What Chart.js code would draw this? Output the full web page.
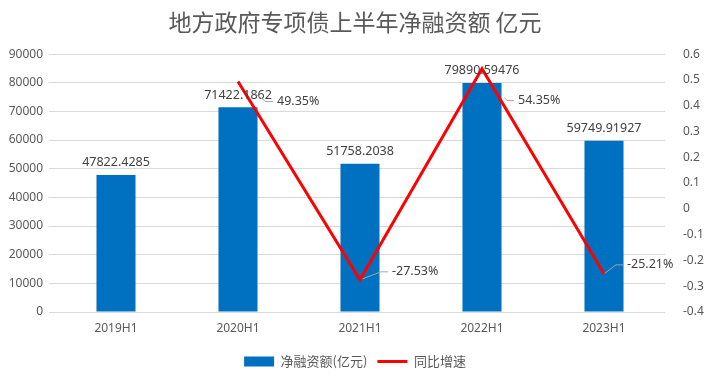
<!DOCTYPE html>
<html>
<head>
<meta charset="utf-8">
<script src="https://cdn.jsdelivr.net/npm/chart.js@4/dist/chart.umd.min.js"></script>
<style>
html,body{margin:0;padding:0;background:#fff;}
#wrap{width:710px;height:379px;position:relative;}
</style>
</head>
<body>
<div id="wrap"><canvas id="c" width="710" height="379"></canvas></div>
<script>
const categories = ['2019H1', '2020H1', '2021H1', '2022H1', '2023H1'];
const netFinancing = [47822.4285, 71422.1862, 51758.2038, 79890.59476, 59749.91927];
const netFinancingLabels = ['47822.4285', '71422.1862', '51758.2038', '79890.59476', '59749.91927'];
const yoyGrowth = [null, 0.4935, -0.2753, 0.5435, -0.2521];
const yoyLabels = ['', '49.35%', '-27.53%', '54.35%', '-25.21%'];

// label placement (style only): offset of label left-middle from point, leader start fraction
const yoyLabelPos = [null, {dx: 39, dy: 20, t: 0.62}, {dx: 32, dy: -8, t: 0.12}, {dx: 36, dy: 32, t: 0.9}, {dx: 23, dy: -9, t: 0.05}];

const FONT = '"Noto Sans", "Noto Sans CJK SC", sans-serif';

const labelPlugin = {
  id: 'labels',
  afterDatasetsDraw(chart) {
    const ctx = chart.ctx;
    ctx.save();
    ctx.font = '12.5px ' + FONT;
    ctx.fillStyle = '#404040';
    const barMeta = chart.getDatasetMeta(0);
    barMeta.data.forEach((el, i) => {
      ctx.textAlign = 'center';
      ctx.textBaseline = 'bottom';
      ctx.fillText(netFinancingLabels[i], el.x, el.y - 6);
    });
    const lineMeta = chart.getDatasetMeta(1);
    lineMeta.data.forEach((el, i) => {
      const p = yoyLabelPos[i];
      if (!p || yoyGrowth[i] === null) return;
      const lx = el.x + p.dx, ly = el.y + p.dy;
      const ex = lx - 4, ey = ly;
      const bx = lx - 11, by = ly;
      const sx = el.x + (bx - el.x) * p.t, sy = el.y + (by - el.y) * p.t;
      ctx.strokeStyle = '#A6A6A6';
      ctx.lineWidth = 1;
      ctx.beginPath();
      ctx.moveTo(sx, sy);
      ctx.lineTo(bx, by);
      ctx.lineTo(ex, ey);
      ctx.stroke();
      ctx.textAlign = 'left';
      ctx.textBaseline = 'middle';
      ctx.fillText(yoyLabels[i], lx, ly);
    });
    ctx.restore();
  }
};

new Chart(document.getElementById('c'), {
  data: {
    labels: categories,
    datasets: [
      {
        type: 'bar',
        label: '净融资额(亿元)',
        data: netFinancing,
        backgroundColor: '#0070C0',
        borderWidth: 0,
        yAxisID: 'y',
        categoryPercentage: 1,
        barPercentage: 0.32,
        order: 2
      },
      {
        type: 'line',
        label: '同比增速',
        data: yoyGrowth,
        borderColor: '#FF0000',
        backgroundColor: '#FF0000',
        borderWidth: 3,
        pointRadius: 0,
        tension: 0,
        spanGaps: false,
        yAxisID: 'y1',
        order: 1
      }
    ]
  },
  options: {
    responsive: false,
    animation: false,
    layout: {padding: {left: 0, right: 0, top: 0, bottom: 1}},
    plugins: {
      tooltip: {enabled: false},
      title: {
        display: true,
        text: '地方政府专项债上半年净融资额 亿元',
        color: '#595959',
        font: {family: '"Noto Sans CJK SC", sans-serif', size: 23, weight: 'normal'},
        padding: {top: 8, bottom: 18.5}
      },
      legend: {
        position: 'bottom',
        labels: {
          color: '#595959',
          font: {family: '"Noto Sans CJK SC", sans-serif', size: 13},
          usePointStyle: true,
          pointStyleWidth: 30,
          boxHeight: 10,
          padding: 10,
          generateLabels(chart) {
            return chart.data.datasets.map((ds, i) => ({
              text: ds.label,
              fillStyle: ds.backgroundColor,
              strokeStyle: ds.type === 'line' ? ds.borderColor : ds.backgroundColor,
              lineWidth: ds.type === 'line' ? 3 : 0,
              pointStyle: ds.type === 'line' ? 'line' : 'rect',
              fontColor: '#595959',
              datasetIndex: i,
              hidden: false
            }));
          }
        }
      }
    },
    scales: {
      x: {
        grid: {display: false, drawTicks: false},
        border: {display: false},
        ticks: {color: '#595959', font: {family: FONT, size: 12}, padding: 9},
        afterFit(s) { s.height = 33; }
      },
      y: {
        position: 'left',
        min: 0, max: 90000,
        ticks: {stepSize: 10000, color: '#595959', font: {family: FONT, size: 12}, padding: 6,
          callback: v => String(v)},
        grid: {color: '#D9D9D9', tickLength: 6, tickColor: '#D9D9D9'},
        border: {display: false},
        afterFit(s) { s.width = 55; }
      },
      y1: {
        position: 'right',
        min: -0.4, max: 0.6,
        ticks: {stepSize: 0.1, color: '#595959', font: {family: FONT, size: 12}, padding: 10,
          callback: v => String(parseFloat(Number(v).toFixed(1)))},
        grid: {display: false},
        border: {display: false},
        afterFit(s) { s.width = 45; }
      }
    }
  },
  plugins: [labelPlugin]
});
</script>
</body>
</html>
